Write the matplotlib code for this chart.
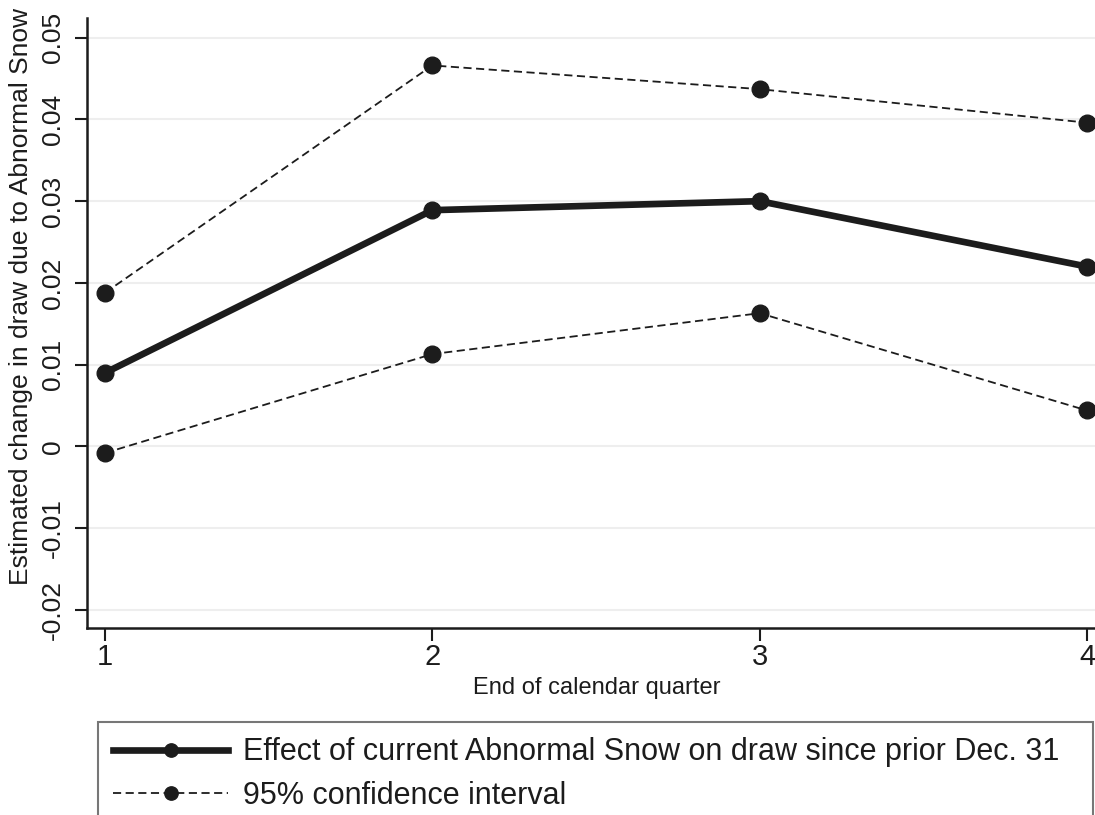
import matplotlib
matplotlib.use("Agg")
import matplotlib.pyplot as plt

quarters = [1, 2, 3, 4]
effect = [0.0090, 0.0289, 0.0300, 0.0220]
upper_ci = [0.0188, 0.0466, 0.0437, 0.0396]
lower_ci = [-0.0008, 0.0113, 0.0163, 0.0044]
yticks = [-0.02, -0.01, 0, 0.01, 0.02, 0.03, 0.04, 0.05]
ytick_labels = ["-0.02", "-0.01", "0", "0.01", "0.02", "0.03", "0.04", "0.05"]

plt.rcParams["font.family"] = ["Liberation Sans", "DejaVu Sans"]
ink = "#1c1c1c"

fig = plt.figure(figsize=(10.95, 8.15), dpi=100)
W, H = 1095, 815
# axes box in pixels: left spine at 87, bottom spine at 628, top at 18
ax = fig.add_axes([87 / W, (H - 628) / H, 1019 / W, 610 / H])

for y in yticks:
    ax.axhline(y, color="#eeeeee", lw=1.5, zorder=0)

ax.plot(quarters, effect, color=ink, lw=4.8, marker="o", ms=12, zorder=3,
        label="Effect of current Abnormal Snow on draw since prior Dec. 31")
ax.plot(quarters, upper_ci, color=ink, lw=1.3, ls=(0, (4.5, 2.5)), marker="o", ms=12,
        zorder=2, label="95% confidence interval")
ax.plot(quarters, lower_ci, color=ink, lw=1.3, ls=(0, (4.5, 2.5)), marker="o", ms=12,
        zorder=2)

ax.set_xlim(0.945, 4.058)
ax.set_ylim(-0.0222, 0.0524)
ax.set_xticks(quarters)
ax.set_yticks(yticks)
ax.set_yticklabels(ytick_labels, rotation=90, va="center")
ax.tick_params(axis="both", direction="out", length=9, width=1.5, color=ink,
               labelcolor=ink)
ax.tick_params(axis="y", labelsize=19, pad=7)
ax.tick_params(axis="x", labelsize=21, pad=2)

for side in ["top", "right"]:
    ax.spines[side].set_visible(False)
for side in ["left", "bottom"]:
    ax.spines[side].set_linewidth(1.8)
    ax.spines[side].set_color(ink)

ax.set_ylabel("Estimated change in draw due to Abnormal Snow", fontsize=19,
              color=ink)
ax.yaxis.set_label_coords(-54 / 1019, 0.544)
ax.set_xlabel("End of calendar quarter", fontsize=17, color=ink, labelpad=4)

leg = fig.legend(loc="upper left",
                 bbox_to_anchor=(98 / W, (H - 722) / H, 995 / W, 0.0),
                 mode="expand", fancybox=False, fontsize=22, handlelength=3.75,
                 handletextpad=0.5, borderpad=0.5, labelspacing=0.45,
                 borderaxespad=0, numpoints=1, markerscale=0.8)
leg.get_frame().set_edgecolor("#555555")
leg.get_frame().set_linewidth(1.5)
for t in leg.get_texts():
    t.set_color(ink)

fig.savefig("out.png", dpi=100)
